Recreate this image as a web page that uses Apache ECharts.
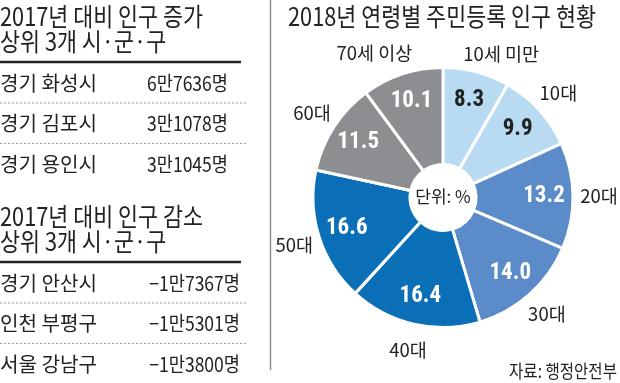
<!DOCTYPE html>
<html><head><meta charset="utf-8">
<script src="https://cdn.jsdelivr.net/npm/echarts@6/dist/echarts.min.js"></script>
<style>html,body{margin:0;padding:0;background:#fff}#c{width:620px;height:383px}</style>
</head><body><div id="c"></div>
<script>
// ---- data ----
const increaseTitle = ['2017년 대비 인구 증가', '상위 3개 시·군·구'];
const increaseRegions = ['경기 화성시', '경기 김포시', '경기 용인시'];
const increaseValues = ['6만7636명', '3만1078명', '3만1045명'];
const decreaseTitle = ['2017년 대비 인구 감소', '상위 3개 시·군·구'];
const decreaseRegions = ['경기 안산시', '인천 부평구', '서울 강남구'];
const decreaseValues = ['−1만7367명', '−1만5301명', '−1만3800명'];
const pieTitle = '2018년 연령별 주민등록 인구 현황';
const ageGroups = ['10세 미만', '10대', '20대', '30대', '40대', '50대', '60대', '70세 이상'];
const shares = [8.3, 9.9, 13.2, 14.0, 16.4, 16.6, 11.5, 10.1];
const unitLabel = '단위: %';
const sourceLabel = '자료: 행정안전부';

// ---- styles ----
const sliceColors = ['#b9dbf2', '#b9dbf2', '#5b8bc9', '#5b8bc9', '#0b6fb8', '#0b6fb8', '#8d8e92', '#8d8e92'];
const valueColors = ['#222', '#222', '#fff', '#fff', '#fff', '#fff', '#fff', '#fff'];
const nameOffsets = [[18, 7], [0, 0], [0, 0], [0, 0], [0, 0], [0, 0], [0, 0], [-20, 4]];
const KR = "'Noto Sans CJK KR', sans-serif";
const NUM = "'Liberation Sans Narrow', 'Roboto Condensed', 'DejaVu Sans Condensed', 'Noto Sans CJK KR', sans-serif";
const INK = '#222';

const mctx = document.createElement('canvas').getContext('2d');
function measure(text, size, weight, family) {
  mctx.font = (weight || 'normal') + ' ' + size + 'px ' + family;
  return mctx.measureText(text).width;
}
function fitScale(text, size, target, weight, family) {
  return target / measure(text, size, weight, family || KR);
}
function txt(text, x, y, size, sx, align, extra) {
  const st = Object.assign({
    text: text, fontSize: size, fontFamily: KR, fill: INK,
    align: align, textAlign: align, verticalAlign: 'middle', textVerticalAlign: 'middle'
  }, extra || {});
  return { type: 'text', x: x, y: y, scaleX: sx, silent: true, style: st };
}
function line(x1, y1, x2, y2, color, width, dash) {
  return { type: 'line', silent: true, shape: { x1: x1, y1: y1, x2: x2, y2: y2 },
    style: { stroke: color, lineWidth: width, lineDash: dash || null } };
}

const titleSize = 25, rowSize = 20;
const titleScale = fitScale(increaseTitle[0], titleSize, 203);
const rowScale = fitScale(increaseRegions[0], rowSize, 97);
const valScale = fitScale(increaseValues[0], rowSize, 81);
const pieTitleScale = fitScale(pieTitle, titleSize, 308);
const srcScale = fitScale(sourceLabel, 18, 108);

const g = [];
function section(titles, regions, values, y0, valueRight) {
  g.push(txt(titles[0], 0, y0, titleSize, titleScale, 'left'));
  g.push(txt(titles[1], 0, y0 + 25, titleSize, titleScale, 'left'));
  g.push(line(0, y0 + 46, 241, y0 + 46, '#222', 2.5));
  regions.forEach(function (r, i) {
    const yy = y0 + 67 + i * 40.5;
    g.push(txt(r, 0, yy, rowSize, rowScale, 'left'));
    g.push(txt(values[i], valueRight, yy, rowSize, valScale, 'right'));
    if (i < regions.length - 1) g.push(line(0, yy + 20, 246, yy + 20, '#9a9a9a', 1, [2, 2]));
  });
}
section(increaseTitle, increaseRegions, increaseValues, 16, 228);
section(decreaseTitle, decreaseRegions, decreaseValues, 216, 240);
g.push(line(270.5, 0, 270.5, 370, '#8f8f8f', 1.5));
g.push(txt(pieTitle, 442, 16, titleSize, pieTitleScale, 'center'));
g.push(txt(unitLabel, 443, 197, 17, 1, 'center'));
g.push(txt(sourceLabel, 617, 371, 18, srcScale, 'right'));

const center = [443, 197.5];
const clear = { color: 'rgba(0,0,0,0)', borderWidth: 0 };
const option = {
  animation: false,
  backgroundColor: '#fff',
  graphic: g,
  series: [
    {
      type: 'pie', center: center, radius: [33, 130], startAngle: 90, clockwise: true,
      silent: true, avoidLabelOverlap: false,
      label: { show: false }, labelLine: { show: false },
      itemStyle: { borderColor: '#fff', borderWidth: 3 },
      data: ageGroups.map(function (n, i) {
        return { name: n, value: shares[i], itemStyle: { color: sliceColors[i] } };
      })
    },
    {
      type: 'pie', center: center, radius: [66, 130], startAngle: 90, clockwise: true,
      silent: true, avoidLabelOverlap: false, z: 3,
      itemStyle: clear, labelLine: { show: false },
      label: { show: true, position: 'inside', fontFamily: NUM, fontSize: 23, fontWeight: 'bold',
        formatter: function (p) { return p.value.toFixed(1); } },
      data: ageGroups.map(function (n, i) {
        return { name: n, value: shares[i], label: { color: valueColors[i] } };
      })
    },
    {
      type: 'pie', center: center, radius: [140, 166], startAngle: 90, clockwise: true,
      silent: true, avoidLabelOverlap: false, z: 3,
      itemStyle: clear, labelLine: { show: false },
      label: { show: true, position: 'inside', fontFamily: KR, fontSize: 18.5, color: INK,
        formatter: '{b}' },
      data: ageGroups.map(function (n, i) {
        return { name: n, value: shares[i], label: { offset: nameOffsets[i] } };
      })
    }
  ]
};
const chart = echarts.init(document.getElementById('c'), null, { renderer: 'canvas' });
chart.setOption(option);
</script>
</body></html>
